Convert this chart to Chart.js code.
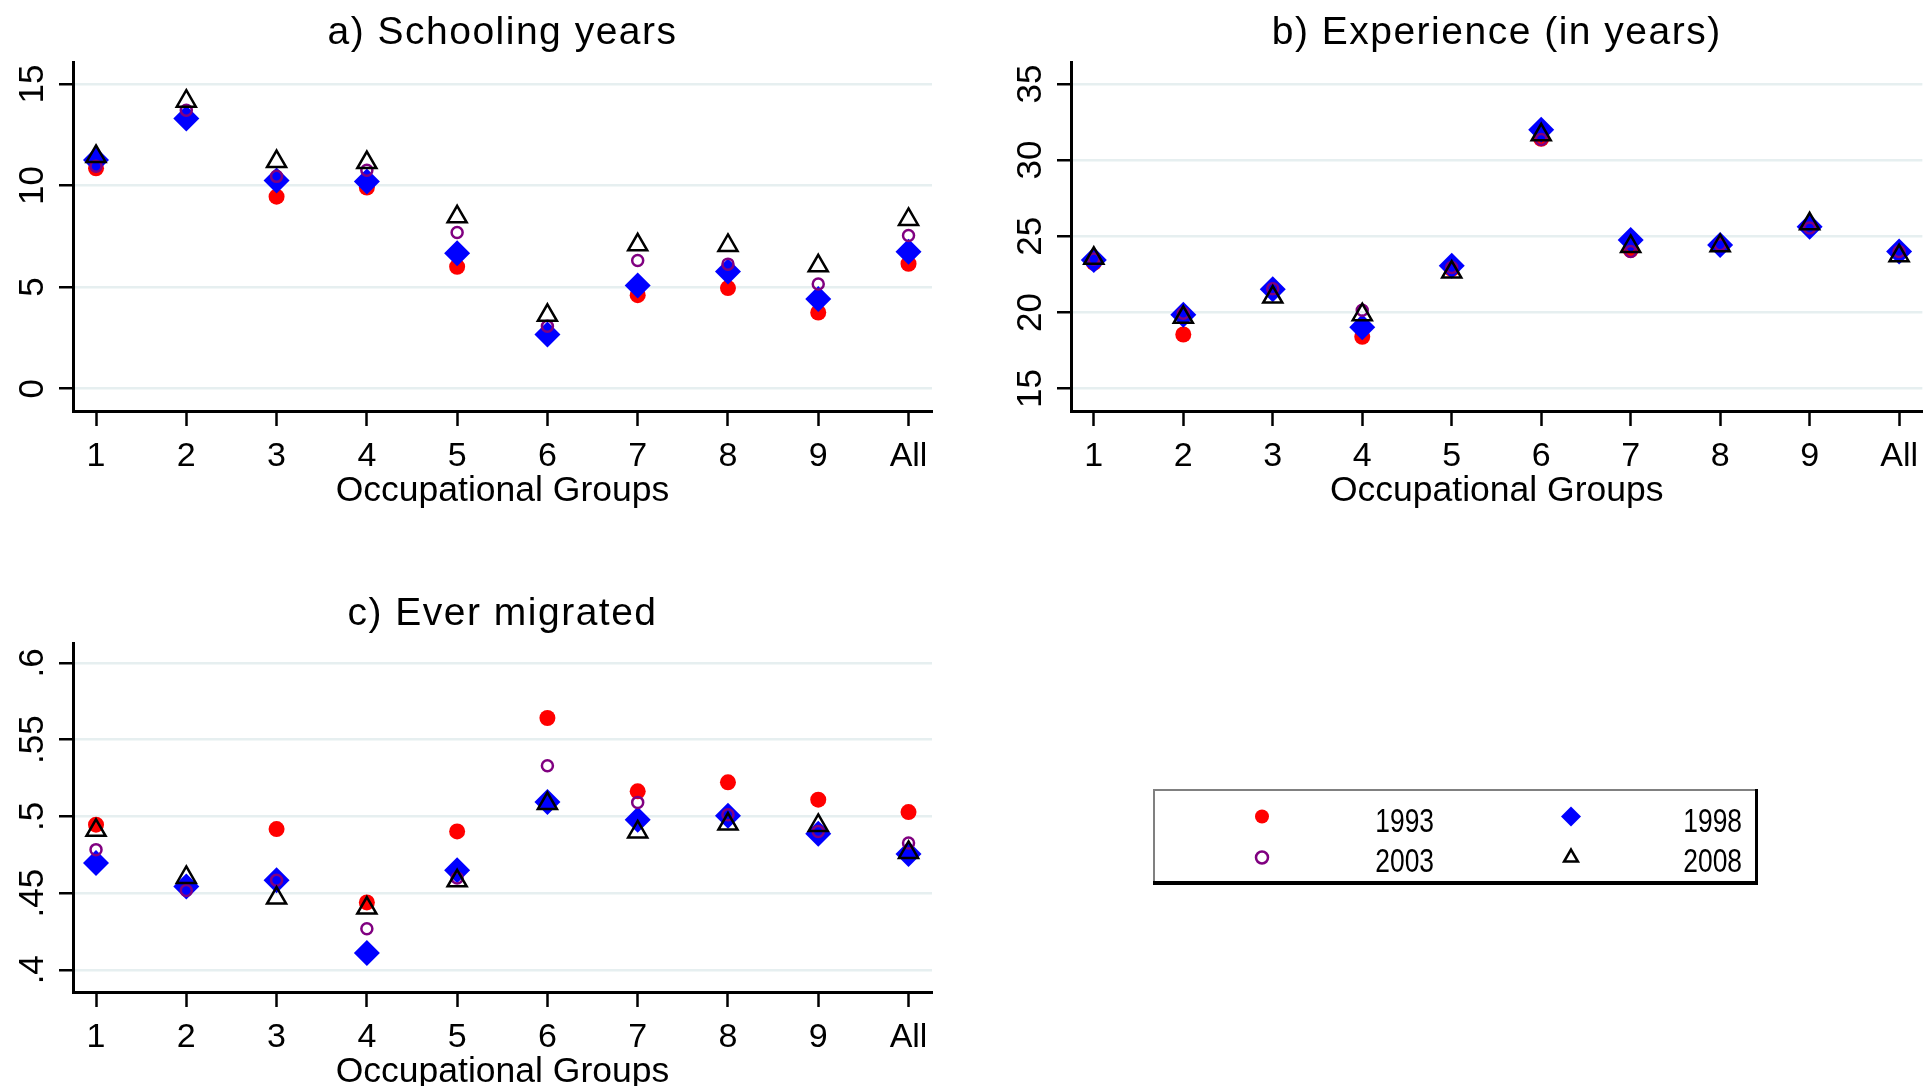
<!DOCTYPE html>
<html>
<head>
<meta charset="utf-8">
<script src="https://cdn.jsdelivr.net/npm/chart.js@4.4.1/dist/chart.umd.min.js"></script>
<style>
  html, body { margin: 0; padding: 0; background: #ffffff; width: 1928px; height: 1086px; overflow: hidden; }
  canvas { position: absolute; display: block; }
</style>
</head>
<body>
<canvas id="panelA" width="960" height="530" style="left:0px;top:0px"></canvas>
<canvas id="panelB" width="928" height="530" style="left:1000px;top:0px"></canvas>
<canvas id="panelC" width="1928" height="530" style="left:0px;top:581px"></canvas>
<script>
// Occupational groups on the x axis
const categories = ['1', '2', '3', '4', '5', '6', '7', '8', '9', 'All'];
const years = ['1993', '1998', '2003', '2008'];

// a) Schooling years
const schooling1993 = [10.85, 13.35, 9.45, 9.9, 6.0, 2.75, 4.6, 4.95, 3.75, 6.15];
const schooling1998 = [11.25, 13.3, 10.25, 10.2, 6.67, 2.66, 5.08, 5.77, 4.41, 6.74];
const schooling2003 = [10.95, 13.7, 10.45, 10.75, 7.69, 3.07, 6.31, 6.13, 5.15, 7.54];
const schooling2008 = [11.43, 14.15, 11.18, 11.13, 8.46, 3.61, 7.08, 7.05, 6.05, 8.33];
const schoolingTicks = [0, 5, 10, 15];

// b) Experience (in years)
const experience1993 = [23.25, 18.55, 21.45, 18.4, 22.85, 31.4, 24.1, 24.45, 25.6, 23.95];
const experience1998 = [23.45, 19.85, 21.53, 19.02, 23.06, 32.0, 24.76, 24.43, 25.63, 24.0];
const experience2003 = [23.5, 19.95, 21.55, 20.15, 22.95, 31.35, 24.0, 24.45, 25.55, 24.0];
const experience2008 = [23.55, 19.68, 21.01, 19.85, 22.65, 31.66, 24.33, 24.38, 25.82, 23.72];
const experienceTicks = [15, 20, 25, 30, 35];

// c) Ever migrated (share)
const migrated1993 = [0.4946, 0.455, 0.4917, 0.4439, 0.4902, 0.5641, 0.5163, 0.5222, 0.5109, 0.5028];
const migrated1998 = [0.4696, 0.4543, 0.4583, 0.4109, 0.4648, 0.5093, 0.4978, 0.5004, 0.4887, 0.4754];
const migrated2003 = [0.4783, 0.4517, 0.4583, 0.4267, 0.4598, 0.533, 0.5091, 0.5011, 0.4902, 0.4826];
const migrated2008 = [0.4909, 0.4602, 0.4467, 0.4402, 0.458, 0.5083, 0.4898, 0.495, 0.4941, 0.4765];
const migratedTicks = [0.4, 0.45, 0.5, 0.55, 0.6];

const FONT = '"Liberation Sans", Arial, Helvetica, sans-serif';

// marker look per survey year
const yearStyles = [
  { pointStyle: 'circle',  radius: 8,   backgroundColor: '#ff0000', borderColor: '#ff0000', borderWidth: 0, order: 4, legendRadius: 7 },
  { pointStyle: 'rectRot', radius: 13,  backgroundColor: '#0000ff', borderColor: '#0000ff', borderWidth: 0, order: 3, legendRadius: 10 },
  { pointStyle: 'circle',  radius: 5.5, backgroundColor: 'rgba(0,0,0,0)', borderColor: '#800080', borderWidth: 2.5, order: 2, legendRadius: 6 },
  { pointStyle: 'triangle', radius: 11, backgroundColor: 'rgba(0,0,0,0)', borderColor: '#000000', borderWidth: 2.5, order: 1, legendRadius: 8 }
];

function buildDatasets(seriesList) {
  return seriesList.map((values, i) => {
    const s = yearStyles[i];
    return {
      label: years[i],
      data: values.map((v, k) => ({ x: k + 1, y: v })),
      pointStyle: s.pointStyle,
      pointRadius: s.radius,
      pointHoverRadius: s.radius,
      pointBackgroundColor: s.backgroundColor,
      pointBorderColor: s.borderColor,
      pointBorderWidth: s.borderWidth,
      backgroundColor: s.backgroundColor,
      borderColor: s.borderColor,
      borderWidth: s.borderWidth,
      legendRadius: s.legendRadius,
      showLine: false,
      order: s.order
    };
  });
}

// panel title plus vertical (rotated) y tick labels
const panelDecor = {
  id: 'panelDecor',
  afterDraw(chart, args, opts) {
    const ctx = chart.ctx;
    const area = chart.chartArea;
    const ys = chart.scales.y;
    ctx.save();
    ctx.fillStyle = '#000000';
    ctx.font = opts.yTickSize + 'px ' + FONT;
    ctx.textAlign = 'center';
    ctx.textBaseline = 'alphabetic';
    ys.ticks.forEach(t => {
      const py = ys.getPixelForValue(t.value);
      ctx.save();
      ctx.translate(area.left - opts.yTickGap, py);
      ctx.rotate(-Math.PI / 2);
      ctx.fillText(t.label, 0, 0);
      ctx.restore();
    });
    ctx.font = opts.titleSize + 'px ' + FONT;
    if ('letterSpacing' in ctx) ctx.letterSpacing = opts.titleSpacing + 'px';
    ctx.fillText(opts.title, (area.left + area.right) / 2, area.top - opts.titleGap);
    if ('letterSpacing' in ctx) ctx.letterSpacing = '0px';
    ctx.restore();
  }
};

// framed two-column key for the survey years
const yearKey = {
  id: 'yearKey',
  afterDraw(chart, args, o) {
    if (!o.show) return;
    const ctx = chart.ctx;
    const b = o.box;
    ctx.save();
    ctx.fillStyle = '#ffffff';
    ctx.fillRect(b.x, b.y, b.w, b.h);
    ctx.strokeStyle = '#808080';
    ctx.lineWidth = 2;
    ctx.strokeRect(b.x + 1, b.y + 1, b.w - 2, b.h - 2);
    ctx.fillStyle = '#000000';
    ctx.fillRect(b.x, b.y + b.h - 4, b.w, 4);
    ctx.fillRect(b.x + b.w - 3, b.y, 3, b.h);
    chart.data.datasets.forEach((ds, i) => {
      const col = i % 2, row = Math.floor(i / 2);
      const mx = o.markerX[col], my = o.markerY[row];
      ctx.fillStyle = ds.backgroundColor;
      ctx.strokeStyle = ds.borderColor;
      ctx.lineWidth = ds.borderWidth;
      const pt = { pointStyle: ds.pointStyle, radius: ds.legendRadius, rotation: 0, borderWidth: ds.borderWidth };
      if (Chart.helpers && Chart.helpers.drawPoint) {
        Chart.helpers.drawPoint(ctx, pt, mx, my);
      }
      ctx.save();
      ctx.fillStyle = '#000000';
      ctx.font = o.fontSize + 'px ' + FONT;
      ctx.textAlign = 'right';
      ctx.textBaseline = 'alphabetic';
      ctx.translate(o.textRight[col], o.textBaseline[row]);
      ctx.scale(o.textScaleX, 1);
      ctx.fillText(ds.label, 0, 0);
      ctx.restore();
    });
    ctx.restore();
  }
};

function makePanel(canvasId, cfg) {
  const yTickValues = cfg.yTicks;
  return new Chart(document.getElementById(canvasId), {
    type: 'scatter',
    data: { datasets: buildDatasets(cfg.series) },
    options: {
      responsive: false,
      animation: false,
      events: [],
      layout: { autoPadding: false, padding: { top: 62, right: cfg.padRight, bottom: 0, left: 0 } },
      plugins: {
        legend: { display: false },
        tooltip: { enabled: false },
        title: { display: false },
        panelDecor: { title: cfg.title, titleSize: 39, titleSpacing: 1.5, titleGap: 18, yTickSize: 35, yTickGap: 30 },
        yearKey: cfg.key || { show: false }
      },
      scales: {
        x: {
          type: 'linear',
          min: 0.745,
          max: 10.26,
          afterBuildTicks: s => { s.ticks = categories.map((c, i) => ({ value: i + 1 })); },
          afterFit: s => { s.height = 119; },
          ticks: {
            callback: v => categories[Math.round(v) - 1],
            autoSkip: false, minRotation: 0, maxRotation: 0,
            color: '#000000', padding: 10,
            font: { family: FONT, size: 34 }
          },
          grid: { drawOnChartArea: false, drawTicks: true, tickLength: 15, tickColor: '#000000', tickWidth: 2.5 },
          border: { display: true, color: '#000000', width: 3 },
          title: {
            display: true, text: 'Occupational Groups', color: '#000000',
            font: { family: FONT, size: 35.5 }, padding: { top: 0, bottom: 17.5 }
          }
        },
        y: {
          type: 'linear',
          min: cfg.yMin,
          max: cfg.yMax,
          afterBuildTicks: s => { s.ticks = yTickValues.map(v => ({ value: v })); },
          afterFit: s => { s.width = cfg.yWidth; },
          ticks: { display: false, callback: cfg.yFormat },
          grid: { color: '#e6eff0', lineWidth: 2.5, drawTicks: true, tickLength: 14, tickColor: '#000000', tickWidth: 2.5 },
          border: { display: true, color: '#000000', width: 3 }
        }
      }
    },
    plugins: [panelDecor, yearKey]
  });
}

makePanel('panelA', {
  title: 'a) Schooling years',
  series: [schooling1993, schooling1998, schooling2003, schooling2008],
  yTicks: schoolingTicks, yMin: -1.1, yMax: 16.08, yWidth: 73, padRight: 28,
  yFormat: v => String(v)
});

makePanel('panelB', {
  title: 'b) Experience (in years)',
  series: [experience1993, experience1998, experience2003, experience2008],
  yTicks: experienceTicks, yMin: 13.53, yMax: 36.44, yWidth: 71, padRight: 0,
  yFormat: v => String(v)
});

makePanel('panelC', {
  title: 'c) Ever migrated',
  series: [migrated1993, migrated1998, migrated2003, migrated2008],
  yTicks: migratedTicks, yMin: 0.3855, yMax: 0.613, yWidth: 73, padRight: 996,
  yFormat: v => String(v).replace(/^0\./, '.'),
  key: {
    show: true,
    box: { x: 1153, y: 208, w: 605, h: 96 },
    markerX: [1262, 1571],
    markerY: [235.5, 276.5],
    textRight: [1434, 1742],
    textBaseline: [250.7, 290.7],
    fontSize: 33,
    textScaleX: 0.8
  }
});
</script>
</body>
</html>
